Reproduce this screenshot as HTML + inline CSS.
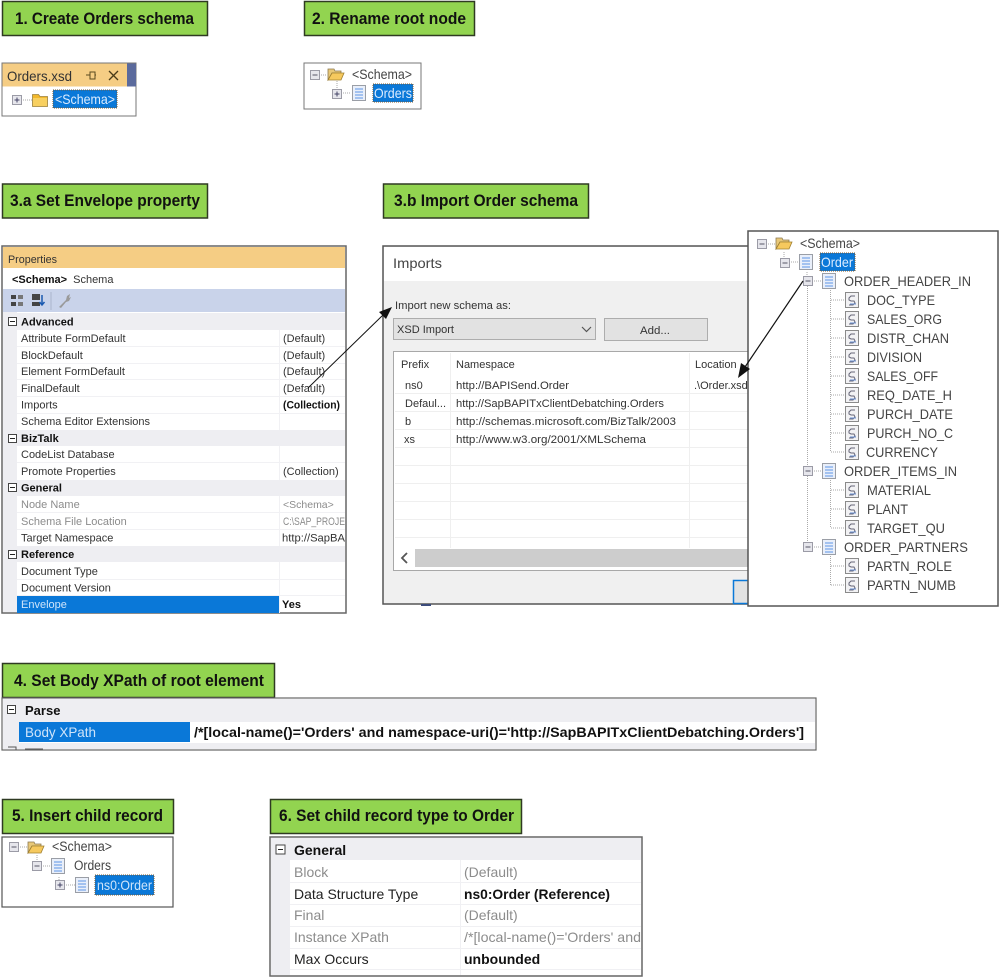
<!DOCTYPE html>
<html><head><meta charset="utf-8"><title>Orders schema steps</title>
<style>
html,body{margin:0;padding:0;background:#fff;width:999px;height:977px;overflow:hidden}
svg{display:block;font-family:"Liberation Sans",Arial,sans-serif;filter:blur(.35px)}
.l{fill:#92d450;stroke:#2f3a22;stroke-width:1.5}
.lt{font-size:17px;font-weight:bold;fill:#111}
.p{font-size:11px;fill:#333}
.c{font-size:11px;font-weight:bold;fill:#111}
.t{font-size:14px;fill:#444}
.i{font-size:11px;fill:#333}
.s{font-size:14px;fill:#222}
.g{fill:#8c8c8c}
.b{font-weight:bold;fill:#111}
.dot{stroke:#aaa;stroke-width:1;stroke-dasharray:1 1;fill:none}
</style></head><body>
<svg width="999" height="977" viewBox="0 0 999 977" xmlns="http://www.w3.org/2000/svg">
<defs>
<symbol id="mn" viewBox="0 0 10 10" width="10" height="10"><rect x=".5" y=".5" width="9" height="9" fill="#e6e6ec" stroke="#9b9ba6"/><path d="M2.5 5h5" stroke="#556" stroke-width="1"/></symbol>
<symbol id="pl" viewBox="0 0 10 10" width="10" height="10"><rect x=".5" y=".5" width="9" height="9" fill="#e6e6ec" stroke="#9b9ba6"/><path d="M2.5 5h5M5 2.5v5" stroke="#446" stroke-width="1"/></symbol>
<symbol id="cm" viewBox="0 0 9 9" width="9" height="9"><rect x=".5" y=".5" width="8" height="8" fill="#fff" stroke="#444"/><path d="M2 4.5h5" stroke="#222"/></symbol>
<symbol id="fo" viewBox="0 0 18 14" width="18" height="14"><path d="M1 13V2h6l1 2h6v2H5z" fill="#e8c878" stroke="#8c7a50" stroke-width=".8"/><path d="M1 13l4-7h12l-3 7z" fill="#f6c95e" stroke="#a08030" stroke-width=".8"/></symbol>
<symbol id="fc" viewBox="0 0 16 14" width="16" height="14"><path d="M.5 13.5V1.5h6l1.5 2h7.500v10z" fill="#f2b82c" stroke="#9c8240" stroke-width=".8"/><rect x="1" y="5" width="14" height="8" fill="#f8d060"/></symbol>
<symbol id="dc" viewBox="0 0 14 16" width="14" height="16"><rect x=".5" y=".5" width="13" height="15" fill="#e9effa" stroke="#9a9ea6"/><path d="M3 4h8M3 7h8M3 10h8M3 13h8" stroke="#7aa6ea" stroke-width="1.200"/></symbol>
<symbol id="fd" viewBox="0 0 14 16" width="14" height="16"><rect x=".5" y=".5" width="13" height="15" fill="#f2f2f4" stroke="#8a8a8a"/><path d="M10 4H6L4 6v2l2 1h3l1 2-2 2H4" fill="none" stroke="#667" stroke-width="1"/><path d="M5 12h6" stroke="#6b93d6"/></symbol>
</defs>
<rect width="999" height="977" fill="#fff"/>

<!-- step labels -->
<rect class="l" x="2.500" y="1.500" width="205" height="34"/>
<text class="lt" x="15" y="24" textLength="179" lengthAdjust="spacingAndGlyphs">1. Create Orders schema</text>
<rect class="l" x="304.500" y="1.500" width="170" height="34"/>
<text class="lt" x="312" y="24" textLength="154" lengthAdjust="spacingAndGlyphs">2. Rename root node</text>
<rect class="l" x="2.500" y="184" width="205" height="34"/>
<text class="lt" x="10" y="206" textLength="190" lengthAdjust="spacingAndGlyphs">3.a Set Envelope property</text>
<rect class="l" x="383.500" y="184" width="205" height="34"/>
<text class="lt" x="394" y="206" textLength="184" lengthAdjust="spacingAndGlyphs">3.b Import Order schema</text>
<rect class="l" x="2.500" y="663.500" width="272" height="34"/>
<text class="lt" x="14" y="686" textLength="250" lengthAdjust="spacingAndGlyphs">4. Set Body XPath of root element</text>
<rect class="l" x="2.500" y="799.500" width="171" height="34"/>
<text class="lt" x="12" y="821" textLength="151" lengthAdjust="spacingAndGlyphs">5. Insert child record</text>
<rect class="l" x="270.500" y="799.500" width="251" height="34"/>
<text class="lt" x="279" y="821" textLength="235" lengthAdjust="spacingAndGlyphs">6. Set child record type to Order</text>

<!-- panel 1 -->
<rect x="2" y="63" width="134" height="53" fill="#fff" stroke="#777"/>
<rect x="2.500" y="63.500" width="125" height="23" fill="#f5cd84"/>
<rect x="127" y="63.500" width="9" height="23" fill="#5b6a9c"/>
<text x="7" y="81" font-size="14" fill="#333" textLength="65" lengthAdjust="spacingAndGlyphs">Orders.xsd</text>
<path d="M86 75h4M90 72v7h5v-7zM95 75h1" fill="none" stroke="#5a4a20" stroke-width="1"/>
<path d="M109 71l9 9M118 71l-9 9" stroke="#4a3c18" stroke-width="1.300"/>
<use href="#pl" x="12" y="95"/>
<path class="dot" d="M23 100h9"/>
<use href="#fc" x="32" y="93"/>
<rect x="53" y="90" width="64" height="18" fill="#0a78d8" stroke="#7a5a30" stroke-dasharray="1 1"/>
<text x="55" y="104" font-size="14" fill="#dcecff" textLength="60" lengthAdjust="spacingAndGlyphs">&lt;Schema&gt;</text>

<!-- panel 2 -->
<rect x="304" y="63" width="117" height="46" fill="#fff" stroke="#777"/>
<use href="#mn" x="310" y="70"/>
<path class="dot" d="M321 75h6M337 81v8"/>
<use href="#fo" x="327" y="67"/>
<text x="352" y="79" class="t" textLength="60" lengthAdjust="spacingAndGlyphs">&lt;Schema&gt;</text>
<use href="#pl" x="332" y="89"/>
<path class="dot" d="M343 93h8"/>
<use href="#dc" x="352" y="85"/>
<rect x="373" y="84" width="40" height="18" fill="#0a78d8" stroke="#7a5a30" stroke-dasharray="1 1"/>
<text x="374" y="98" font-size="14" fill="#dcecff" textLength="38" lengthAdjust="spacingAndGlyphs">Orders</text>

<!-- properties panel -->
<rect x="2" y="246" width="344" height="367" fill="#fff" stroke="#666" stroke-width="1.500"/>
<rect x="3" y="247" width="342" height="21" fill="#f5cd84"/>
<text x="8" y="263" class="p" textLength="49" lengthAdjust="spacingAndGlyphs">Properties</text>
<text x="12" y="283" class="p"><tspan class="b">&lt;Schema&gt;</tspan> <tspan dx="3">Schema</tspan></text>
<rect x="3" y="289" width="342" height="23" fill="#c9d3ea"/>
<g fill="#444"><rect x="11" y="295" width="5" height="4"/><rect x="11" y="302" width="5" height="4"/><rect x="18" y="295" width="5" height="4" fill="#777"/><rect x="18" y="302" width="5" height="4" fill="#777"/><rect x="32" y="294" width="8" height="6"/><rect x="32" y="302" width="8" height="4"/></g>
<path d="M42 295v9M39.500 302l2.500 3 2.500-3" stroke="#1a5ab0" fill="none" stroke-width="1.500"/>
<path d="M51 292v18" stroke="#aab4cc"/>
<path d="M59 307l7-7 1-4 3-2-1 4 2-1-2 4-3 1-5 6z" fill="#9a9a9a"/>
<rect x="3" y="312" width="14" height="300" fill="#eeeef2"/>
<g fill="#eeeef2">
<rect x="3" y="313" width="342" height="17"/>
<rect x="3" y="430" width="342" height="16"/>
<rect x="3" y="480" width="342" height="16"/>
<rect x="3" y="546" width="342" height="16"/>
</g>
<path d="M17 346.500H345M17 363.500H345M17 379.500H345M17 396.500H345M17 413.500H345M17 462.500H345M17 512.500H345M17 529.500H345M17 579.500H345M17 595.500H345M279.500 330V430M279.500 446V480M279.500 496V546M279.500 562V613" stroke="#f1f1f4" fill="none"/>
<use href="#cm" x="8" y="317"/><use href="#cm" x="8" y="434"/><use href="#cm" x="8" y="483"/><use href="#cm" x="8" y="550"/>
<text class="c" x="21" y="325.500">Advanced</text>
<text class="p" x="21" y="342">Attribute FormDefault</text><text class="p" x="283" y="342">(Default)</text>
<text class="p" x="21" y="359">BlockDefault</text><text class="p" x="283" y="359">(Default)</text>
<text class="p" x="21" y="375">Element FormDefault</text><text class="p" x="283" y="375">(Default)</text>
<text class="p" x="21" y="392">FinalDefault</text><text class="p" x="283" y="392">(Default)</text>
<text class="p" x="21" y="408.500">Imports</text><text class="p b" x="283" y="408.500" textLength="57" lengthAdjust="spacingAndGlyphs">(Collection)</text>
<text class="p" x="21" y="425">Schema Editor Extensions</text>
<text class="c" x="21" y="442">BizTalk</text>
<text class="p" x="21" y="458">CodeList Database</text>
<text class="p" x="21" y="475">Promote Properties</text><text class="p" x="283" y="475">(Collection)</text>
<text class="c" x="21" y="491.500">General</text>
<text class="p g" x="21" y="508">Node Name</text><text class="p g" x="283" y="508" style="font-size:10.500px">&lt;Schema&gt;</text>
<text class="p g" x="21" y="525">Schema File Location</text><text class="p g" x="283" y="525" textLength="62" lengthAdjust="spacingAndGlyphs">C:\SAP_PROJE</text>
<text class="p" x="21" y="541.500">Target Namespace</text><text class="p" x="282" y="541.500" textLength="63" lengthAdjust="spacingAndGlyphs">http://SapBA</text>
<text class="c" x="21" y="558">Reference</text>
<text class="p" x="21" y="575">Document Type</text>
<text class="p" x="21" y="591.500">Document Version</text>
<rect x="17" y="596" width="262" height="17" fill="#0a78d8"/>
<text class="p" x="21" y="608" style="fill:#cfe4fa">Envelope</text>
<text class="p b" x="282" y="608">Yes</text>

<!-- imports dialog -->
<rect x="383" y="246" width="366" height="358" fill="#f0f0f0" stroke="#555" stroke-width="1.500"/>
<rect x="384" y="247" width="364" height="34" fill="#fff"/>
<text x="393" y="268" font-size="14" fill="#444" textLength="49" lengthAdjust="spacingAndGlyphs">Imports</text>
<text x="395" y="309" class="i" textLength="116" lengthAdjust="spacingAndGlyphs">Import new schema as:</text>
<rect x="393.500" y="318.500" width="202" height="21" fill="#e2e2e2" stroke="#adadad"/>
<text x="397" y="333" class="i" textLength="57" lengthAdjust="spacingAndGlyphs">XSD Import</text>
<path d="M582 327l4.500 4.500 4.500-4.500" fill="none" stroke="#555" stroke-width="1.200"/>
<rect x="604.500" y="318.500" width="103" height="22" fill="#e2e2e2" stroke="#adadad"/>
<text x="640" y="334" class="i" textLength="30" lengthAdjust="spacingAndGlyphs">Add...</text>
<rect x="393.500" y="351.500" width="356" height="219" fill="#fff" stroke="#a8a8a8"/>
<path d="M395 393.500H748M395 411.500H748M395 429.500H748M395 447.500H748M395 465.500H748M395 483.500H748M395 501.500H748M395 519.500H748M395 537.500H748M450.500 353V548M689.500 353V548" stroke="#efefef" fill="none"/>
<text class="i" x="401" y="368">Prefix</text><text class="i" x="456" y="368">Namespace</text><text class="i" x="695" y="368">Location</text>
<text class="i" x="405" y="389">ns0</text><text class="i" x="456" y="389" textLength="113" lengthAdjust="spacingAndGlyphs">http://BAPISend.Order</text><text class="i" x="694" y="389">.\Order.xsd</text>
<text class="i" x="405" y="407" textLength="41" lengthAdjust="spacingAndGlyphs">Defaul...</text><text class="i" x="456" y="407" textLength="208" lengthAdjust="spacingAndGlyphs">http://SapBAPITxClientDebatching.Orders</text>
<text class="i" x="405" y="425">b</text><text class="i" x="456" y="425" textLength="220" lengthAdjust="spacingAndGlyphs">http://schemas.microsoft.com/BizTalk/2003</text>
<text class="i" x="404" y="443">xs</text><text class="i" x="456" y="443" textLength="190" lengthAdjust="spacingAndGlyphs">http://www.w3.org/2001/XMLSchema</text>
<rect x="415" y="549" width="333" height="18" fill="#cdcdcd"/>
<path d="M407 553l-5 5 5 5" fill="none" stroke="#555" stroke-width="1.800"/>
<rect x="733.500" y="580.500" width="20" height="23" fill="#e2e2e2" stroke="#0a78d8" stroke-width="1.500"/>
<rect x="421" y="604" width="10" height="2" fill="#3c4c7c"/>

<!-- tree panel -->
<rect x="748" y="231" width="250" height="375" fill="#fff" stroke="#555" stroke-width="1.500"/>
<use href="#mn" x="757" y="239"/>
<path class="dot" d="M768 244h7M784 252v6M791 262h7M807 272v5M814 281h7"/>
<use href="#fo" x="775" y="236"/>
<text class="t" x="800" y="248" textLength="60" lengthAdjust="spacingAndGlyphs">&lt;Schema&gt;</text>
<use href="#mn" x="780" y="258"/>
<use href="#dc" x="799" y="254"/>
<rect x="820" y="253" width="35" height="18" fill="#0a78d8" stroke="#7a5a30" stroke-dasharray="1 1"/>
<text x="821" y="267" font-size="14" fill="#dcecff" textLength="32" lengthAdjust="spacingAndGlyphs">Order</text>
<path class="dot" d="M807.500 286V547M830.500 290V452M830.500 480V528M830.500 556V585"/>
<path class="dot" d="M831 300h14M831 319h14M831 338h14M831 357h14M831 376h14M831 395h14M831 414h14M831 433h14M831 452h14M831 490h14M831 509h14M831 528h14M831 566h14M831 585h14M814 471h8M814 547h8"/>
<use href="#mn" x="803" y="276"/><use href="#dc" x="822" y="273"/>
<use href="#mn" x="803" y="466"/><use href="#dc" x="822" y="463"/>
<use href="#mn" x="803" y="542"/><use href="#dc" x="822" y="539"/>
<use href="#fd" x="845" y="292"/><use href="#fd" x="845" y="311"/><use href="#fd" x="845" y="330"/><use href="#fd" x="845" y="349"/><use href="#fd" x="845" y="368"/><use href="#fd" x="845" y="387"/><use href="#fd" x="845" y="406"/><use href="#fd" x="845" y="425"/><use href="#fd" x="845" y="444"/><use href="#fd" x="845" y="482"/><use href="#fd" x="845" y="501"/><use href="#fd" x="845" y="520"/><use href="#fd" x="845" y="558"/><use href="#fd" x="845" y="577"/>
<text class="t" x="844" y="286" textLength="127" lengthAdjust="spacingAndGlyphs">ORDER_HEADER_IN</text>
<text class="t" x="867" y="305" textLength="68" lengthAdjust="spacingAndGlyphs">DOC_TYPE</text>
<text class="t" x="867" y="324" textLength="75" lengthAdjust="spacingAndGlyphs">SALES_ORG</text>
<text class="t" x="867" y="343" textLength="82" lengthAdjust="spacingAndGlyphs">DISTR_CHAN</text>
<text class="t" x="867" y="362" textLength="55" lengthAdjust="spacingAndGlyphs">DIVISION</text>
<text class="t" x="867" y="381" textLength="71" lengthAdjust="spacingAndGlyphs">SALES_OFF</text>
<text class="t" x="867" y="400" textLength="85" lengthAdjust="spacingAndGlyphs">REQ_DATE_H</text>
<text class="t" x="867" y="419" textLength="86" lengthAdjust="spacingAndGlyphs">PURCH_DATE</text>
<text class="t" x="867" y="438" textLength="86" lengthAdjust="spacingAndGlyphs">PURCH_NO_C</text>
<text class="t" x="866" y="457" textLength="72" lengthAdjust="spacingAndGlyphs">CURRENCY</text>
<text class="t" x="844" y="476" textLength="113" lengthAdjust="spacingAndGlyphs">ORDER_ITEMS_IN</text>
<text class="t" x="867" y="495" textLength="64" lengthAdjust="spacingAndGlyphs">MATERIAL</text>
<text class="t" x="867" y="514" textLength="41" lengthAdjust="spacingAndGlyphs">PLANT</text>
<text class="t" x="867" y="533" textLength="78" lengthAdjust="spacingAndGlyphs">TARGET_QU</text>
<text class="t" x="844" y="552" textLength="124" lengthAdjust="spacingAndGlyphs">ORDER_PARTNERS</text>
<text class="t" x="867" y="571" textLength="85" lengthAdjust="spacingAndGlyphs">PARTN_ROLE</text>
<text class="t" x="867" y="590" textLength="89" lengthAdjust="spacingAndGlyphs">PARTN_NUMB</text>

<!-- arrows -->
<path d="M308 388L383 315" stroke="#111" stroke-width="1"/>
<path d="M392 307L386 319 379 312z" fill="#111"/>
<path d="M803 281L745 367" stroke="#111" stroke-width="1.200"/>
<path d="M738 378L741 363 750 369z" fill="#111"/>

<!-- panel 4 -->
<rect x="2" y="698" width="814" height="52" fill="#fff" stroke="#666" stroke-width="1.200"/>
<rect x="3" y="699" width="812" height="23" fill="#eeeef2"/>
<rect x="3" y="722" width="16" height="27" fill="#eeeef2"/>
<rect x="3" y="743" width="812" height="6" fill="#eeeef2"/>
<use href="#cm" x="7" y="705"/>
<text x="25" y="715" font-size="13" font-weight="bold" fill="#111">Parse</text>
<rect x="19" y="722" width="171" height="20" fill="#0a78d8"/>
<text x="25" y="737" font-size="14" fill="#cfe4fa" textLength="71" lengthAdjust="spacingAndGlyphs">Body XPath</text>
<text x="194" y="737" font-size="14" font-weight="bold" fill="#111" textLength="610" lengthAdjust="spacingAndGlyphs">/*[local-name()='Orders' and namespace-uri()='http://SapBAPITxClientDebatching.Orders']</text>
<path d="M8 747h8v3M25 749h18" stroke="#555" fill="none"/>

<!-- panel 5 -->
<rect x="2" y="837" width="171" height="70" fill="#fff" stroke="#555" stroke-width="1.200"/>
<use href="#mn" x="9" y="842"/>
<path class="dot" d="M20 847h7M37 855v5M43 866h9M59 877v4M66 885h9"/>
<use href="#fo" x="27" y="840"/>
<text x="52" y="851" font-size="13.500" fill="#444" textLength="60" lengthAdjust="spacingAndGlyphs">&lt;Schema&gt;</text>
<use href="#mn" x="32" y="861"/><use href="#dc" x="51" y="858"/>
<text x="74" y="870" font-size="13.500" fill="#444" textLength="37" lengthAdjust="spacingAndGlyphs">Orders</text>
<use href="#pl" x="55" y="880"/><use href="#dc" x="75" y="877"/>
<rect x="95" y="875" width="59" height="20" fill="#0a78d8" stroke="#7a5a30" stroke-dasharray="1 1"/>
<text x="97" y="890" font-size="14" fill="#cfe4fa" textLength="55" lengthAdjust="spacingAndGlyphs">ns0:Order</text>

<!-- panel 6 -->
<rect x="270" y="837" width="372" height="139" fill="#fff" stroke="#666" stroke-width="1.500"/>
<rect x="271" y="838" width="370" height="22" fill="#eeeef2"/>
<rect x="271" y="860" width="19" height="115" fill="#eeeef2"/>
<path d="M290 882.500H641M290 904.500H641M290 926.500H641M290 948.500H641M290 969.500H641M460.500 860V975" stroke="#f0f0f3" fill="none"/>
<rect x="276" y="845" width="9" height="9" fill="#fff" stroke="#444"/><path d="M278 849.500h5" stroke="#222"/>
<text class="s b" x="294" y="855">General</text>
<text class="s g" x="294" y="877">Block</text><text class="s g" x="464" y="877">(Default)</text>
<text class="s" x="294" y="899">Data Structure Type</text><text class="s b" x="464" y="899" textLength="146" lengthAdjust="spacingAndGlyphs">ns0:Order (Reference)</text>
<text class="s g" x="294" y="920">Final</text><text class="s g" x="464" y="920">(Default)</text>
<text class="s g" x="294" y="942">Instance XPath</text><text class="s g" x="464" y="942" textLength="177" lengthAdjust="spacingAndGlyphs">/*[local-name()='Orders' and</text>
<text class="s" x="294" y="964">Max Occurs</text><text class="s b" x="464" y="964">unbounded</text>
</svg>
</body></html>
